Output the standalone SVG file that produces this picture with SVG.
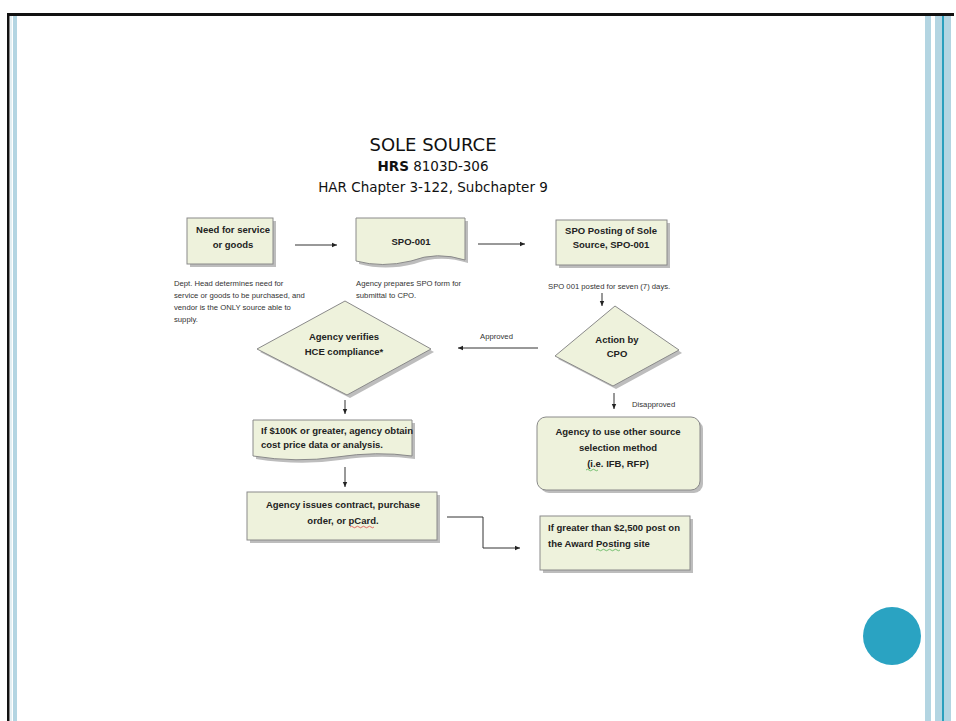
<svg xmlns="http://www.w3.org/2000/svg" width="956" height="721" viewBox="0 0 956 721">
<style>
.box{fill:#eef2dc;stroke:#8a8a8a;stroke-width:1}
.sh{fill:#bdbdbd}
.bt{font-family:"Liberation Sans",Arial,sans-serif;font-weight:bold;font-size:9.5px;fill:#222}
.st{font-family:"Liberation Sans",Arial,sans-serif;font-size:7.7px;fill:#333}
.tt{font-family:"DejaVu Sans","Liberation Sans",sans-serif;fill:#111}
.ln{stroke:#333;stroke-width:1;fill:none}
</style>
<defs>
<marker id="ah" markerWidth="6" markerHeight="6" refX="5" refY="3" orient="auto" markerUnits="userSpaceOnUse">
<path d="M0,0.8 L5,3 L0,5.2 Z" fill="#222"/>
</marker>
</defs>
<rect width="956" height="721" fill="#fff"/>
<!-- frame -->
<rect x="7" y="13" width="947" height="3" fill="#111"/>
<rect x="7" y="13" width="2.5" height="708" fill="#111"/>
<rect x="10.5" y="16" width="1" height="705" fill="#c8dfe8"/>
<rect x="13" y="16" width="4" height="705" fill="#b3d5e2"/>
<rect x="925" y="16" width="6" height="705" fill="#b3d5e2"/>
<rect x="935" y="16" width="7" height="705" fill="#b3d5e2"/>
<rect x="942" y="16" width="2" height="705" fill="#2a9fbd"/>
<rect x="944" y="16" width="7" height="705" fill="#b3d5e2"/>
<circle cx="892" cy="636" r="29" fill="#2aa3c2"/>

<!-- title -->
<g id="title">
<text class="tt" x="433" y="151" font-size="18" text-anchor="middle">SOLE SOURCE</text>
<text class="tt" x="433" y="171" font-size="13.5" text-anchor="middle"><tspan font-weight="bold">HRS</tspan> 8103D-306</text>
<text class="tt" x="433" y="192" font-size="13.5" text-anchor="middle">HAR Chapter 3-122, Subchapter 9</text>
</g>

<g id="need">
<rect class="sh" x="190" y="221" width="86" height="46"/>
<rect class="box" x="187" y="218" width="86" height="46"/>
<text class="bt" x="233" y="233" text-anchor="middle" font-size="8.6">Need for service</text>
<text class="bt" x="233" y="248" text-anchor="middle" font-size="7.3">or goods</text>
<text class="st" x="174" y="286">Dept. Head determines need for</text>
<text class="st" x="174" y="298">service or goods to be purchased, and</text>
<text class="st" x="174" y="310">vendor is the ONLY source able to</text>
<text class="st" x="174" y="322">supply.</text>
</g>

<g id="spo001">
<path class="sh" d="M359,221 H468 V263 Q440,254 414,264 Q385,271 359,264 Z"/>
<path class="box" d="M356,218 H465 V260 Q437,251 411,261 Q382,268 356,261 Z"/>
<text class="bt" x="411" y="245" text-anchor="middle">SPO-001</text>
<text class="st" x="356" y="286">Agency prepares SPO form for</text>
<text class="st" x="356" y="298">submittal to CPO.</text>
</g>

<g id="posting">
<rect class="sh" x="559" y="223" width="111" height="45"/>
<rect class="box" x="556" y="220" width="111" height="45"/>
<text class="bt" x="611" y="234" text-anchor="middle">SPO Posting of Sole</text>
<text class="bt" x="611" y="248" text-anchor="middle">Source, SPO-001</text>
<text class="st" x="548" y="289">SPO 001 posted for seven (7) days.</text>
</g>

<g id="cpo">
<path class="sh" d="M618,309 L682,353 L616,389 L558,359 Z"/>
<path class="box" d="M615,306 L679,350 L613,386 L555,356 Z"/>
<text class="bt" x="617" y="343" text-anchor="middle">Action by</text>
<text class="bt" x="617" y="357" text-anchor="middle">CPO</text>
</g>

<g id="hce">
<path class="sh" d="M348,304 L434,352 L350,398 L260,352 Z"/>
<path class="box" d="M345,301 L431,349 L347,395 L257,349 Z"/>
<text class="bt" x="344" y="340" text-anchor="middle">Agency verifies</text>
<text class="bt" x="344" y="355" text-anchor="middle">HCE compliance*</text>
</g>

<g id="cost">
<path class="sh" d="M256,423 H415 V459 Q380,454 340,460 Q300,466 256,459 Z"/>
<path class="box" d="M253,420 H412 V456 Q377,451 337,457 Q297,463 253,456 Z"/>
<text class="bt" x="261" y="434" font-size="8.1">If $100K or greater, agency obtain</text>
<text class="bt" x="261" y="448" font-size="8.1">cost price data or analysis.</text>
</g>

<g id="issue">
<rect class="sh" x="250" y="495" width="190" height="48"/>
<rect class="box" x="247" y="492" width="190" height="48"/>
<text class="bt" x="343" y="508" text-anchor="middle">Agency issues contract, purchase</text>
<text class="bt" x="343" y="524" text-anchor="middle">order, or pCard.</text>
<path d="M350,527 q1.5,-1.5 3,0 t3,0 t3,0 t3,0 t3,0 t3,0 t3,0 t3,0" stroke="#d33" stroke-width="0.7" fill="none"/>
</g>

<g id="other">
<rect class="sh" x="540" y="420" width="163" height="73" rx="9"/>
<rect class="box" x="537" y="417" width="163" height="73" rx="9"/>
<text class="bt" x="618" y="435" text-anchor="middle" font-size="10.5">Agency to use other source</text>
<text class="bt" x="618" y="451" text-anchor="middle" font-size="10.5">selection method</text>
<text class="bt" x="618" y="467" text-anchor="middle" font-size="10.5">(i.e. IFB, RFP)</text>
<path d="M586,470 q1.5,-1.5 3,0 t3,0 t3,0 t3,0" stroke="#4a4" stroke-width="0.7" fill="none"/>
</g>

<g id="award">
<rect class="sh" x="543" y="519" width="150" height="54"/>
<rect class="box" x="540" y="516" width="150" height="54"/>
<text class="bt" x="548" y="531" font-size="8.8">If greater than $2,500 post on</text>
<text class="bt" x="548" y="547" font-size="8.8">the Award Posting site</text>
<path d="M596,550 q1.5,-1.5 3,0 t3,0 t3,0 t3,0 t3,0 t3,0 t3,0 t3,0" stroke="#4a4" stroke-width="0.7" fill="none"/>
</g>

<g id="connectors">
<line class="ln" x1="295" y1="245" x2="337" y2="245" marker-end="url(#ah)"/>
<line class="ln" x1="478" y1="244" x2="525" y2="244" marker-end="url(#ah)"/>
<line class="ln" x1="602" y1="293" x2="602" y2="306" marker-end="url(#ah)"/>
<line class="ln" x1="538" y1="348" x2="458" y2="348" marker-end="url(#ah)"/>
<text class="st" x="480" y="339" font-size="7">Approved</text>
<line class="ln" x1="614" y1="393" x2="614" y2="409" marker-end="url(#ah)"/>
<text class="st" x="632" y="407" font-size="7">Disapproved</text>
<line class="ln" x1="345" y1="400" x2="345" y2="414" marker-end="url(#ah)"/>
<line class="ln" x1="345" y1="467" x2="345" y2="487" marker-end="url(#ah)"/>
<path class="ln" d="M447,517 H483 V548 H520" marker-end="url(#ah)"/>
</g>
</svg>
